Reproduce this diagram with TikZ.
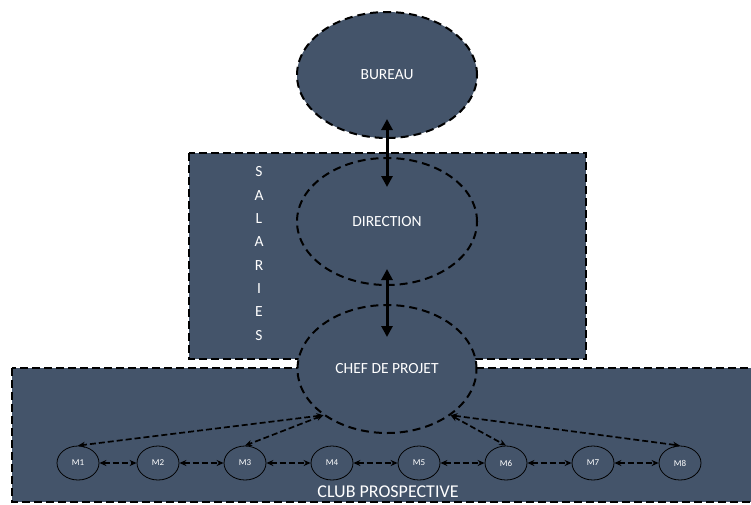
\documentclass[tikz,border=0pt]{standalone}
\usepackage{fontspec}
\setmainfont{Carlito}
\usepackage{tikz}
\usetikzlibrary{shapes.geometric,arrows.meta}
\definecolor{slate}{HTML}{44546A}

\begin{document}
\begin{tikzpicture}[x=1pt,y=-1pt,
  zone/.style={draw=black, fill=slate, line width=2.3pt, dash pattern=on 8pt off 4pt},
  bubble/.style={ellipse, draw=black, fill=slate, line width=2pt, dash pattern=on 8pt off 5pt,
    inner sep=0pt, text=white, font=\fontsize{15.5}{18}\selectfont},
  member/.style={ellipse, draw=black, fill=slate, line width=0.8pt, minimum width=42pt,
    minimum height=34pt, inner sep=0pt, text=white, font=\fontsize{9}{10}\selectfont},
  link/.style={arrows={Triangle[length=11pt,width=11pt]-Triangle[length=11pt,width=11pt]}, line width=3pt},
  dlink/.style={arrows={Stealth[length=7pt,width=6pt]-Stealth[length=7pt,width=6pt]}, line width=1.7pt,
    dash pattern=on 6pt off 3pt}]
  \def\W{751}  % picture width (px)
  \def\H{504}  % picture height
  \def\my{463} % row of the members

  \useasboundingbox (0,0) rectangle (\W,\H);

  % Zones
  \draw[zone] (189,153) rectangle (586,359);
  \draw[zone] (12,368) rectangle (756,502);

  % Zone labels
  \node[text=white, align=center, font=\fontsize{15.5}{23.3}\selectfont] (salaries) at (259,253.5)
    {S\\A\\L\\A\\R\\I\\E\\S};
  \node[text=white, font=\fontsize{18}{21}\selectfont] (club) at (388,492) {CLUB PROSPECTIVE};

  % Main bubbles
  \node[bubble, minimum width=180pt, minimum height=126pt] (bureau) at (387,75) {BUREAU};
  \node[bubble, minimum width=180pt, minimum height=127pt] (direction) at (387,221.5) {DIRECTION};
  \node[bubble, minimum width=179pt, minimum height=128pt] (chef) at (387,369) {CHEF DE PROJET};

  % Members
  \foreach \i/\x in {1/78,2/158,3/245,4/332,5/419,6/506,7/593,8/680}
    \node[member] (m\i) at (\x,\my) {M\i};

  % Links between members
  \foreach \a/\b in {1/2,2/3,3/4,4/5,5/6,6/7,7/8}
    \draw[dlink] (m\a) -- (m\b);

  % Links from the project lead
  \draw[dlink] (chef.216) -- (m1.north);
  \draw[dlink] (chef.216) -- (m3.north);
  \draw[dlink] (chef.324) -- (m6.north);
  \draw[dlink] (chef.324) -- (m8.north);

  % Vertical links
  \draw[link] ([yshift=20pt]bureau.south) -- ([yshift=-30pt]direction.north);
  \draw[link] ([yshift=17pt]direction.south) -- ([yshift=-33pt]chef.north);
\end{tikzpicture}
\end{document}
